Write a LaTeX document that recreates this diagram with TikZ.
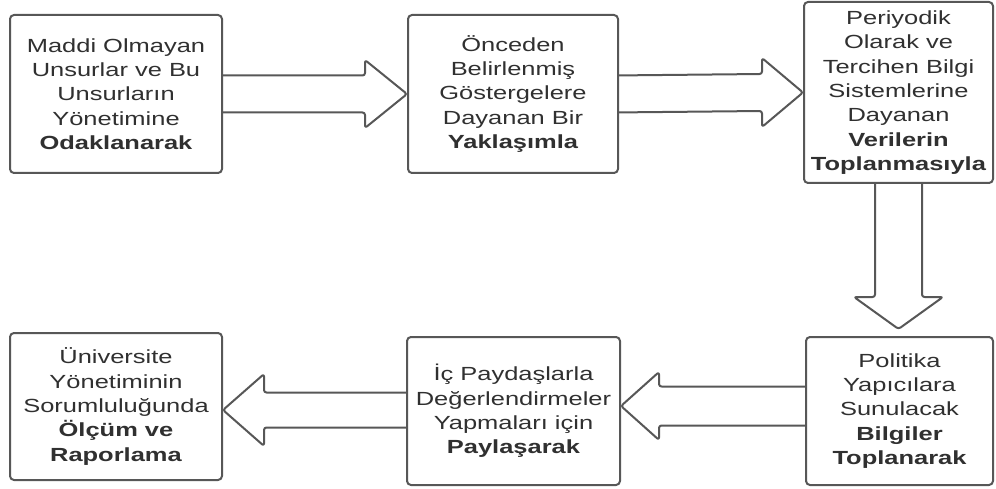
\documentclass[tikz,border=0pt]{standalone}
\usepackage{fontspec}
\setmainfont{Liberation Sans}[FakeStretch=1.34]
\usetikzlibrary{calc,backgrounds}
\definecolor{edge}{HTML}{575757}
\definecolor{txt}{HTML}{303030}
\begin{document}
\begin{tikzpicture}[x=1pt,y=1pt,
  box/.style={draw=edge, line width=2pt, rounded corners=4pt, fill=white,
    align=center, inner sep=0pt, text=txt, font=\fontsize{19}{24.3}\selectfont},
  barrow/.style={draw=edge, line width=2pt, fill=white, rounded corners=2.5pt, line join=round}]
\useasboundingbox (0,0) rectangle (996,488);
% top row
\node[box, minimum width=212, minimum height=158] (b1) at (116,394)
  {Maddi Olmayan\\Unsurlar ve Bu\\Unsurların\\Yönetimine\\\textbf{Odaklanarak}};
\node[box, minimum width=210, minimum height=158] (b2) at (513,394)
  {Önceden\\Belirlenmiş\\Göstergelere\\Dayanan Bir\\\textbf{Yaklaşımla}};
\node[box, minimum width=189, minimum height=181] (b3) at (898.5,395.5)
  {Periyodik\\Olarak ve\\Tercihen Bilgi\\Sistemlerine\\Dayanan\\\textbf{Verilerin}\\\textbf{Toplanmasıyla}};
% bottom row
\node[box, minimum width=187, minimum height=148] (b6) at (899.5,77)
  {Politika\\Yapıcılara\\Sunulacak\\\textbf{Bilgiler}\\\textbf{Toplanarak}};
\node[box, minimum width=213, minimum height=148] (b5) at (513.5,77)
  {İç Paydaşlarla\\Değerlendirmeler\\Yapmaları için\\\textbf{Paylaşarak}};
\node[box, minimum width=212, minimum height=147] (b4) at (116,81.5)
  {Üniversite\\Yönetiminin\\Sorumluluğunda\\\textbf{Ölçüm ve}\\\textbf{Raporlama}};
\coordinate (dtip) at ($(b3.south)+(0,-145)$);
\begin{pgfonlayer}{background}
% b1 -> b2
\draw[barrow] ($(b1.east)+(-6,18.5)$) -- ($(b2.west)+(-42,18.5)$) -- ($(b2.west)+(-42,34)$)
  -- (b2.west) -- ($(b2.west)+(-42,-34)$) -- ($(b2.west)+(-42,-18.5)$)
  -- ($(b1.east)+(-6,-18.5)$) -- cycle;
% b2 -> b3
\draw[barrow] ($(b2.east)+(-6,18.5)$) -- ($(b3.west)+(-41,18.5)$) -- ($(b3.west)+(-41,34.5)$)
  -- (b3.west) -- ($(b3.west)+(-41,-34.5)$) -- ($(b3.west)+(-41,-18.5)$)
  -- ($(b2.east)+(-6,-18.5)$) -- cycle;
% b3 -> b6 (down)
\draw[barrow] ($(b3.south)+(-23.5,6)$) -- ($(dtip)+(-23.5,32)$) -- ($(dtip)+(-44.5,32)$)
  -- (dtip) -- ($(dtip)+(44.5,32)$) -- ($(dtip)+(23.5,32)$)
  -- ($(b3.south)+(23.5,6)$) -- cycle;
% b6 -> b5
\draw[barrow] ($(b6.west)+(6,5+19.5)$) -- ($(b5.east)+(38,5+19.5)$) -- ($(b5.east)+(38,5+34)$)
  -- ($(b5.east)+(0,5)$) -- ($(b5.east)+(38,5-34)$) -- ($(b5.east)+(38,5-19.5)$)
  -- ($(b6.west)+(6,5-19.5)$) -- cycle;
% b5 -> b4
\draw[barrow] ($(b5.west)+(6,1+17.5)$) -- ($(b4.east)+(41,-3.5+17.5)$) -- ($(b4.east)+(41,-3.5+36)$)
  -- ($(b4.east)+(0,-3.5)$) -- ($(b4.east)+(41,-3.5-36)$) -- ($(b4.east)+(41,-3.5-17.5)$)
  -- ($(b5.west)+(6,1-17.5)$) -- cycle;
\end{pgfonlayer}
\end{tikzpicture}
\end{document}
